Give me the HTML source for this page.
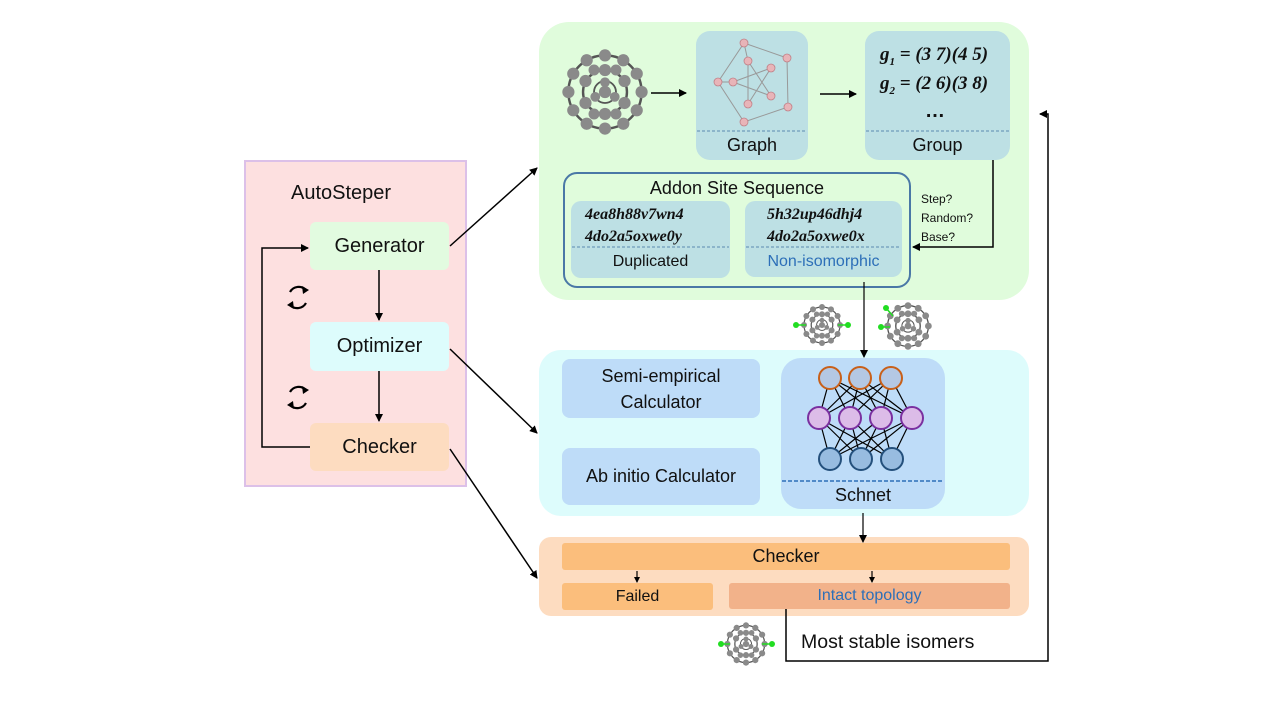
<!DOCTYPE html>
<html><head><meta charset="utf-8"><style>
body{margin:0;width:1280px;height:720px;background:#fff;position:relative;overflow:hidden;font-family:"Liberation Sans","DejaVu Sans",sans-serif;}
.b{position:absolute;box-sizing:border-box;display:flex;align-items:center;justify-content:center;text-align:center;color:#111;}
.t{position:absolute;white-space:nowrap;color:#111;}
.m{font-family:"Liberation Serif",serif;font-style:italic;font-weight:bold;}
</style></head><body>
<div class="b" style="left:244px;top:160px;width:223px;height:327px;background:#fde0e0;border:2px solid #dcc0e8;"></div>
<div class="t" style="left:291px;top:182px;font-size:20px;">AutoSteper</div>
<div class="b" style="left:310px;top:222px;width:139px;height:48px;background:#e2fbe0;border-radius:6px;font-size:20px;">Generator</div>
<div class="b" style="left:310px;top:322px;width:139px;height:49px;background:#ddfcfc;border-radius:6px;font-size:20px;">Optimizer</div>
<div class="b" style="left:310px;top:423px;width:139px;height:48px;background:#fddcc0;border-radius:6px;font-size:20px;">Checker</div>

<div class="b" style="left:539px;top:22px;width:490px;height:278px;background:#e0fcdc;border-radius:30px;"></div>
<div class="b" style="left:696px;top:31px;width:112px;height:129px;background:#bde0e4;border-radius:14px;"></div>
<div class="t" style="left:696px;width:112px;text-align:center;top:135px;font-size:18px;">Graph</div>
<div class="b" style="left:865px;top:31px;width:145px;height:129px;background:#bde0e4;border-radius:14px;"></div>
<div class="t m" style="left:880px;top:44px;font-size:19px;">g<sub style="font-size:11px">1</sub> = (3 7)(4 5)</div>
<div class="t m" style="left:880px;top:73px;font-size:19px;">g<sub style="font-size:11px">2</sub> = (2 6)(3 8)</div>
<div class="t" style="left:925px;top:100px;font-size:20px;font-weight:bold;">…</div>
<div class="t" style="left:865px;width:145px;text-align:center;top:135px;font-size:18px;">Group</div>

<div class="b" style="left:563px;top:172px;width:348px;height:116px;border:2px solid #4a78a6;border-radius:14px;"></div>
<div class="t" style="left:563px;width:348px;text-align:center;top:178px;font-size:18px;">Addon Site Sequence</div>
<div class="b" style="left:571px;top:201px;width:159px;height:77px;background:#bde0e4;border-radius:10px;"></div>
<div class="b" style="left:745px;top:201px;width:157px;height:76px;background:#bde0e4;border-radius:10px;"></div>
<div class="t m" style="left:585px;top:204px;font-size:16px;line-height:22px;">4ea8h88v7wn4<br>4do2a5oxwe0y</div>
<div class="t m" style="left:767px;top:204px;font-size:16px;line-height:22px;">5h32up46dhj4<br>4do2a5oxwe0x</div>
<div class="t" style="left:571px;width:159px;text-align:center;top:253px;font-size:16px;">Duplicated</div>
<div class="t" style="left:745px;width:157px;text-align:center;top:253px;font-size:16px;color:#2d6fb8;">Non-isomorphic</div>
<div class="t" style="left:921px;top:190px;font-size:12px;line-height:19px;">Step?<br>Random?<br>Base?</div>

<div class="b" style="left:539px;top:350px;width:490px;height:166px;background:#ddfcfc;border-radius:22px;"></div>
<div class="b" style="left:562px;top:359px;width:198px;height:59px;background:#bedcf8;border-radius:8px;font-size:18px;line-height:26px;">Semi-empirical<br>Calculator</div>
<div class="b" style="left:562px;top:448px;width:198px;height:57px;background:#bedcf8;border-radius:8px;font-size:18px;">Ab initio Calculator</div>
<div class="b" style="left:781px;top:358px;width:164px;height:151px;background:#bedcf8;border-radius:20px;"></div>
<div class="t" style="left:781px;width:164px;text-align:center;top:485px;font-size:18px;">Schnet</div>

<div class="b" style="left:539px;top:537px;width:490px;height:79px;background:#fddcc0;border-radius:12px;"></div>
<div class="b" style="left:562px;top:543px;width:448px;height:27px;background:#fbbe7c;border-radius:3px;font-size:18px;">Checker</div>
<div class="b" style="left:562px;top:583px;width:151px;height:27px;background:#fbbe7c;border-radius:3px;font-size:16px;">Failed</div>
<div class="b" style="left:729px;top:583px;width:281px;height:26px;background:#f2b28a;border-radius:3px;font-size:16px;color:#2d6fb8;">Intact topology</div>
<div class="t" style="left:801px;top:631px;font-size:19.5px;">Most stable isomers</div>

<svg width="1280" height="720" style="position:absolute;left:0;top:0" xmlns="http://www.w3.org/2000/svg">
<defs>
<marker id="a" markerWidth="8" markerHeight="8" refX="7" refY="4" orient="auto" markerUnits="userSpaceOnUse"><path d="M0,0 L8,4 L0,8 z" fill="#000"/></marker>
<marker id="s" markerWidth="6" markerHeight="6" refX="5" refY="3" orient="auto" markerUnits="userSpaceOnUse"><path d="M0,0 L6,3 L0,6 z" fill="#000"/></marker>
<g id="ball">
<circle r="30" fill="none" stroke="#555" stroke-width="2"/>
<circle r="18" fill="none" stroke="#555" stroke-width="2"/>
<circle r="9" fill="none" stroke="#555" stroke-width="1.5"/>
<g fill="#8a8a8a">
<circle cx="0" cy="-30" r="5"/><circle cx="15" cy="-26" r="5"/><circle cx="26" cy="-15" r="5"/><circle cx="30" cy="0" r="5"/><circle cx="26" cy="15" r="5"/><circle cx="15" cy="26" r="5"/><circle cx="0" cy="30" r="5"/><circle cx="-15" cy="26" r="5"/><circle cx="-26" cy="15" r="5"/><circle cx="-30" cy="0" r="5"/><circle cx="-26" cy="-15" r="5"/><circle cx="-15" cy="-26" r="5"/>
<circle cx="0" cy="-18" r="5"/><circle cx="16" cy="-9" r="5"/><circle cx="16" cy="9" r="5"/><circle cx="0" cy="18" r="5"/><circle cx="-16" cy="9" r="5"/><circle cx="-16" cy="-9" r="5"/>
<circle cx="9" cy="-18" r="4.5"/><circle cx="-9" cy="18" r="4.5"/><circle cx="-9" cy="-18" r="4.5"/><circle cx="9" cy="18" r="4.5"/>
<circle cx="0" cy="0" r="5"/><circle cx="8" cy="4" r="4"/><circle cx="-8" cy="4" r="4"/><circle cx="0" cy="-8" r="4"/>
</g></g>
</defs>
<g transform="translate(605,92) scale(1.22)"><use href="#ball"/></g>
<g transform="translate(822,325) scale(0.6)"><use href="#ball"/></g>
<g transform="translate(908,326) scale(0.68)"><use href="#ball"/></g>
<g transform="translate(746,644) scale(0.62)"><use href="#ball"/></g>
<g fill="#22dd22"><circle cx="796" cy="325" r="3"/><circle cx="848" cy="325" r="3"/><circle cx="886" cy="308" r="3"/><circle cx="881" cy="327" r="3"/><circle cx="721" cy="644" r="3"/><circle cx="772" cy="644" r="3"/></g>
<g stroke="#22dd22" stroke-width="1.5"><line x1="796" y1="325" x2="806" y2="325"/><line x1="838" y1="325" x2="848" y2="325"/><line x1="886" y1="308" x2="893" y2="316"/><line x1="881" y1="327" x2="890" y2="327"/><line x1="721" y1="644" x2="730" y2="644"/><line x1="762" y1="644" x2="772" y2="644"/></g>

<g stroke="#999" stroke-width="1" fill="none">
<path d="M744,43 L787,58 L788,107 L744,122 L718,82 Z"/>
<path d="M744,43 L748,61 L748,104 M733,82 L771,68 M733,82 L771,96 M748,61 L771,96 M771,68 L748,104 M718,82 L733,82"/>
</g>
<g fill="#e8b4b8" stroke="#c08088" stroke-width="0.8">
<circle cx="744" cy="43" r="4"/><circle cx="787" cy="58" r="4"/><circle cx="788" cy="107" r="4"/><circle cx="744" cy="122" r="4"/><circle cx="718" cy="82" r="4"/><circle cx="733" cy="82" r="4"/><circle cx="748" cy="61" r="4"/><circle cx="771" cy="68" r="4"/><circle cx="771" cy="96" r="4"/><circle cx="748" cy="104" r="4"/>
</g>
<g stroke="#5a8ab0" stroke-width="1" stroke-dasharray="3,2">
<line x1="697" y1="131" x2="807" y2="131"/><line x1="866" y1="131" x2="1009" y2="131"/>
<line x1="572" y1="247" x2="729" y2="247"/><line x1="746" y1="247" x2="901" y2="247"/>
</g>
<line x1="782" y1="481" x2="944" y2="481" stroke="#2d6fb8" stroke-width="1.5" stroke-dasharray="4,2"/>

<g stroke="#000" stroke-width="1.2">
<path d="M830,378L819,418M830,378L850,418M830,378L881,418M830,378L912,418M860,378L819,418M860,378L850,418M860,378L881,418M860,378L912,418M891,378L819,418M891,378L850,418M891,378L881,418M891,378L912,418"/>
<path d="M819,418L830,459M819,418L861,459M819,418L892,459M850,418L830,459M850,418L861,459M850,418L892,459M881,418L830,459M881,418L861,459M881,418L892,459M912,418L830,459M912,418L861,459M912,418L892,459"/>
</g>
<g stroke-width="2">
<g fill="#b4c8e4" stroke="#c8601a"><circle cx="830" cy="378" r="11"/><circle cx="860" cy="378" r="11"/><circle cx="891" cy="378" r="11"/></g>
<g fill="#dcbce8" stroke="#7a30a0"><circle cx="819" cy="418" r="11"/><circle cx="850" cy="418" r="11"/><circle cx="881" cy="418" r="11"/><circle cx="912" cy="418" r="11"/></g>
<g fill="#98bce0" stroke="#24507c"><circle cx="830" cy="459" r="11"/><circle cx="861" cy="459" r="11"/><circle cx="892" cy="459" r="11"/></g>
</g>

<g stroke="#000" stroke-width="1.5" fill="none">
<line x1="379" y1="270" x2="379" y2="320" marker-end="url(#a)"/>
<line x1="379" y1="371" x2="379" y2="421" marker-end="url(#a)"/>
<polyline points="310,447 262,447 262,248 308,248" marker-end="url(#a)"/>
<line x1="450" y1="246" x2="537" y2="168" marker-end="url(#a)"/>
<line x1="450" y1="349" x2="537" y2="433" marker-end="url(#a)"/>
<line x1="450" y1="449" x2="537" y2="578" marker-end="url(#a)"/>
<line x1="651" y1="93" x2="686" y2="93" marker-end="url(#a)"/>
<line x1="820" y1="94" x2="856" y2="94" marker-end="url(#a)"/>
<polyline points="993,160 993,247 913,247" marker-end="url(#a)"/>
<line x1="864" y1="282" x2="864" y2="357" stroke-width="1.2" marker-end="url(#a)"/>
<line x1="863" y1="513" x2="863" y2="542" stroke-width="1.2" marker-end="url(#a)"/>
<line x1="637" y1="571" x2="637" y2="582" stroke-width="1.2" marker-end="url(#s)"/>
<line x1="872" y1="571" x2="872" y2="582" stroke-width="1.2" marker-end="url(#s)"/>
<polyline points="786,609 786,661 1048,661 1048,114 1040,114" marker-end="url(#a)"/>
</g>
<g stroke="#000" stroke-width="2.2" fill="none">
<path d="M290,292 A10,10 0 0 1 306,290"/><path d="M306,303 A10,10 0 0 1 290,305"/>
<path d="M290,392 A10,10 0 0 1 306,390"/><path d="M306,403 A10,10 0 0 1 290,405"/>
</g>
<g fill="#000">
<path d="M302,286 L309,290 L303,294 z"/><path d="M294,309 L287,305 L293,301 z"/>
<path d="M302,386 L309,390 L303,394 z"/><path d="M294,409 L287,405 L293,401 z"/>
</g>
</svg>
</body></html>
